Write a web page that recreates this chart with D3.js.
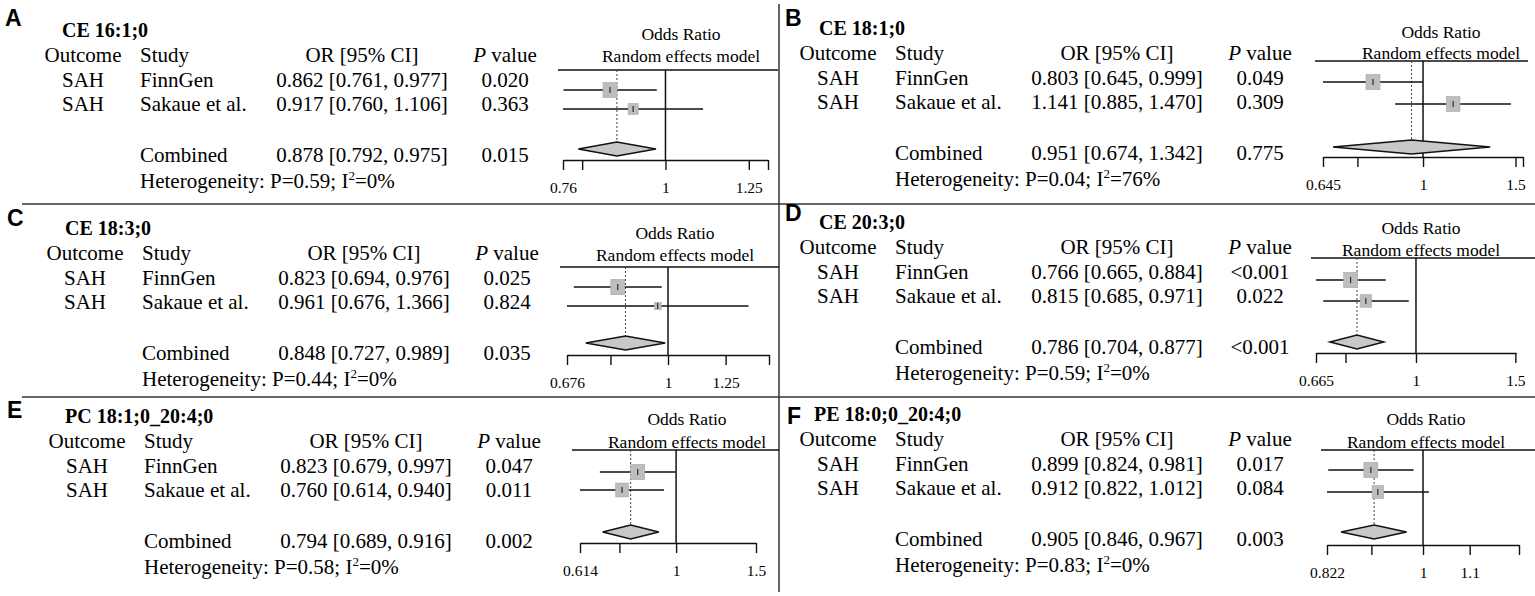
<!DOCTYPE html>
<html>
<head>
  <meta charset="utf-8">
  <title>Forest plots: SAH</title>
  <style>
    body { margin: 0; background: #fff; }
    svg text { font-family: "Liberation Serif", "Times New Roman", serif; fill: #000; }
    svg text.letter { font-family: "Liberation Sans", Arial, sans-serif; font-weight: bold; font-size: 23px; }
    .title { font-weight: bold; font-size: 20px; }
    .cell { font-size: 21px; }
    .fhead { font-size: 17.5px; }
    .axis text { font-family: "Liberation Serif", serif; font-size: 15.5px; fill: #000; }
    .axis path, .axis line { stroke: #111; stroke-width: 1.4px; }
  </style>
</head>
<body>
  <div id="chart"></div>

  <script src="https://d3js.org/d3.v7.min.js"></script>
  <script>
    // data, one entry per panel A-F
    const panelLetters = ["A", "B", "C", "D", "E", "F"];
    const titles = ["CE 16:1;0", "CE 18:1;0", "CE 18:3;0", "CE 20:3;0", "PC 18:1;0_20:4;0", "PE 18:0;0_20:4;0"];
    const outcome = "SAH";
    const studies = ["FinnGen", "Sakaue et al."];

    const orEst  = [[0.862, 0.917], [0.803, 1.141], [0.823, 0.961], [0.766, 0.815], [0.823, 0.760], [0.899, 0.912]];
    const orLow  = [[0.761, 0.760], [0.645, 0.885], [0.694, 0.676], [0.665, 0.685], [0.679, 0.614], [0.824, 0.822]];
    const orHigh = [[0.977, 1.106], [0.999, 1.470], [0.976, 1.366], [0.884, 0.971], [0.997, 0.940], [0.981, 1.012]];
    const pValues = [["0.020", "0.363"], ["0.049", "0.309"], ["0.025", "0.824"], ["<0.001", "0.022"], ["0.047", "0.011"], ["0.017", "0.084"]];
    const weights = [[66, 34], [51, 49], [81, 19], [60, 40], [55, 45], [59, 41]];

    const combEst  = [0.878, 0.951, 0.848, 0.786, 0.794, 0.905];
    const combLow  = [0.792, 0.674, 0.727, 0.704, 0.689, 0.846];
    const combHigh = [0.975, 1.342, 0.989, 0.877, 0.916, 0.967];
    const combP = ["0.015", "0.775", "0.035", "<0.001", "0.002", "0.003"];
    const hetP  = ["0.59", "0.04", "0.44", "0.59", "0.58", "0.83"];
    const hetI2 = ["0%", "76%", "0%", "0%", "0%", "0%"];

    const axisLimits = [[0.76, 1.316], [0.645, 1.55], [0.676, 1.479], [0.665, 1.504], [0.614, 1.5], [0.822, 1.2165]];
    const axisTicks = [
      [0.76, 0.8, 1, 1.25, 1.316],
      [0.645, 0.75, 1, 1.5, 1.55],
      [0.676, 0.8, 1, 1.25, 1.479],
      [0.665, 0.75, 1, 1.5],
      [0.614, 0.75, 1, 1.5],
      [0.822, 0.9, 1, 1.1, 1.2165]
    ];
    const tickLabels = [[0.76, 1, 1.25], [0.645, 1, 1.5], [0.676, 1, 1.25], [0.665, 1, 1.5], [0.614, 1, 1.5], [0.822, 1, 1.1]];

    // layout of each panel (page pixels)
    const layout = [
      {ox: 0,   oy: 0,   lx: 5,   ly: 18,  tx: 62,  ax: [563, 768],   line: [558, 778],   hc: 681,  f: {or: 34,  rem: 56,  top: 70,  r: [90, 109],  dia: 149, axis: 160}},
      {ox: 755, oy: -2,  lx: 785, ly: 18,  tx: 819, ax: [1323, 1523], line: [1315, 1528], hc: 1441, f: {or: 32,  rem: 53,  top: 61,  r: [82, 104],  dia: 147, axis: 157}},
      {ox: 2,   oy: 198, lx: 7,   ly: 218, tx: 65,  ax: [567, 769],   line: [560, 779],   hc: 675,  f: {or: 233, rem: 255, top: 267, r: [287, 306], dia: 343, axis: 355}},
      {ox: 755, oy: 192, lx: 785, ly: 213, tx: 819, ax: [1316, 1516], line: [1311, 1535], hc: 1421, f: {or: 228, rem: 250, top: 258, r: [280, 301], dia: 342, axis: 353}},
      {ox: 4,   oy: 386, lx: 7,   ly: 410, tx: 65,  ax: [580, 756],   line: [572, 779],   hc: 687,  f: {or: 419, rem: 442, top: 450, r: [472, 490], dia: 532, axis: 543}},
      {ox: 755, oy: 384, lx: 787, ly: 416, tx: 814, ax: [1327, 1519], line: [1321, 1535], hc: 1426, f: {or: 419, rem: 442, top: 450, r: [470, 492], dia: 532, axis: 545}}
    ];

    const width = 1535, height = 596;
    const rowY = {title: 30, head: 55, r: [80, 104], comb: 155, het: 181};
    const col = {outcome: 83, study: 140, or: 362, p: 505};
    const base = 7; // text centre -> baseline
    const serif = "'Liberation Serif', 'Times New Roman', serif";

    const svg = d3.select("#chart").append("svg")
      .attr("width", width)
      .attr("height", height)
      .attr("font-family", serif);

    // frame lines
    svg.append("line").attr("x1", 779).attr("x2", 779).attr("y1", 4).attr("y2", 592)
      .attr("stroke", "#333").attr("stroke-width", 1.5);
    [204, 397].forEach(y => {
      svg.append("line").attr("x1", 22).attr("x2", width).attr("y1", y).attr("y2", y)
        .attr("stroke", "#333").attr("stroke-width", 1.5);
    });

    const fmt = d3.format(".3f");
    const ciText = (e, l, h) => `${fmt(e)} [${fmt(l)}, ${fmt(h)}]`;

    panelLetters.forEach((letter, i) => {
      const L = layout[i];
      const g = svg.append("g");
      const ty = y => L.oy + y + base;
      const cell = (xx, yy, anchor, txt) => g.append("text").attr("class", "cell")
        .attr("x", xx).attr("y", yy).attr("text-anchor", anchor).text(txt);

      g.append("text").attr("class", "letter").attr("x", L.lx).attr("y", L.ly + 8).text(letter);
      g.append("text").attr("class", "title").attr("x", L.tx).attr("y", L.oy + rowY.title + 7).text(titles[i]);

      // header
      cell(L.ox + col.outcome, ty(rowY.head), "middle", "Outcome");
      cell(L.ox + col.study, ty(rowY.head), "start", "Study");
      cell(L.ox + col.or, ty(rowY.head), "middle", "OR [95% CI]");
      const ph = cell(L.ox + col.p, ty(rowY.head), "middle", null);
      ph.append("tspan").attr("font-style", "italic").text("P");
      ph.append("tspan").text(" value");

      // study rows
      studies.forEach((s, j) => {
        const y = ty(rowY.r[j]);
        cell(L.ox + col.outcome, y, "middle", outcome);
        cell(L.ox + col.study, y, "start", s);
        cell(L.ox + col.or, y, "middle", ciText(orEst[i][j], orLow[i][j], orHigh[i][j]));
        cell(L.ox + col.p, y, "middle", pValues[i][j]);
      });

      // combined + heterogeneity
      cell(L.ox + col.study, ty(rowY.comb), "start", "Combined");
      cell(L.ox + col.or, ty(rowY.comb), "middle", ciText(combEst[i], combLow[i], combHigh[i]));
      cell(L.ox + col.p, ty(rowY.comb), "middle", combP[i]);
      const het = cell(L.ox + col.study, ty(rowY.het), "start", null);
      het.append("tspan").text(`Heterogeneity: P=${hetP[i]}; I`);
      het.append("tspan").attr("font-size", "13px").attr("dy", -8).text("2");
      het.append("tspan").attr("dy", 8).text(`=${hetI2[i]}`);

      // forest plot
      const F = L.f;
      const x = d3.scaleLog().domain(axisLimits[i]).range(L.ax);
      const size = d3.scaleSqrt().domain([0, d3.max(weights[i])]).range([0, 14]);

      g.append("text").attr("class", "fhead").attr("x", L.hc).attr("y", F.or + 6)
        .attr("text-anchor", "middle").text("Odds Ratio");
      g.append("text").attr("class", "fhead").attr("x", L.hc).attr("y", F.rem + 6)
        .attr("text-anchor", "middle").text("Random effects model");

      g.append("line").attr("x1", L.line[0]).attr("x2", L.line[1]).attr("y1", F.top).attr("y2", F.top)
        .attr("stroke", "#111").attr("stroke-width", 1.5);

      const dh = 7;
      g.append("line").attr("x1", x(combEst[i])).attr("x2", x(combEst[i]))
        .attr("y1", F.top).attr("y2", F.dia - dh)
        .attr("stroke", "#444").attr("stroke-width", 1).attr("stroke-dasharray", "2,2");
      g.append("line").attr("x1", x(1)).attr("x2", x(1)).attr("y1", F.top).attr("y2", F.axis)
        .attr("stroke", "#111").attr("stroke-width", 1.5);

      studies.forEach((s, j) => {
        const y = F.r[j];
        g.append("line").attr("x1", x(orLow[i][j])).attr("x2", x(orHigh[i][j]))
          .attr("y1", y).attr("y2", y).attr("stroke", "#111").attr("stroke-width", 1.5);
        const w = size(weights[i][j]);
        g.append("rect").attr("x", x(orEst[i][j]) - w / 2).attr("y", y - w * 0.55)
          .attr("width", w).attr("height", w * 1.1)
          .attr("fill", "#bdbdbd").attr("stroke", "#aaa").attr("stroke-width", 0.6);
        g.append("line").attr("x1", x(orEst[i][j])).attr("x2", x(orEst[i][j]))
          .attr("y1", y - 3).attr("y2", y + 3).attr("stroke", "#111").attr("stroke-width", 1);
      });

      const cx = x(combEst[i]);
      g.append("path")
        .attr("d", `M${x(combLow[i])},${F.dia} L${cx},${F.dia - dh} L${x(combHigh[i])},${F.dia} L${cx},${F.dia + dh} Z`)
        .attr("fill", "#c8c8c8").attr("stroke", "#111").attr("stroke-width", 1.5);

      const labelled = tickLabels[i];
      g.append("g").attr("class", "axis")
        .attr("transform", `translate(0,${F.axis})`)
        .call(d3.axisBottom(x)
          .tickValues(axisTicks[i])
          .tickSize(10)
          .tickSizeOuter(0)
          .tickPadding(12)
          .tickFormat(d => labelled.includes(d) ? String(d) : ""))
        .attr("font-family", serif);
    });
  </script>
</body>
</html>
